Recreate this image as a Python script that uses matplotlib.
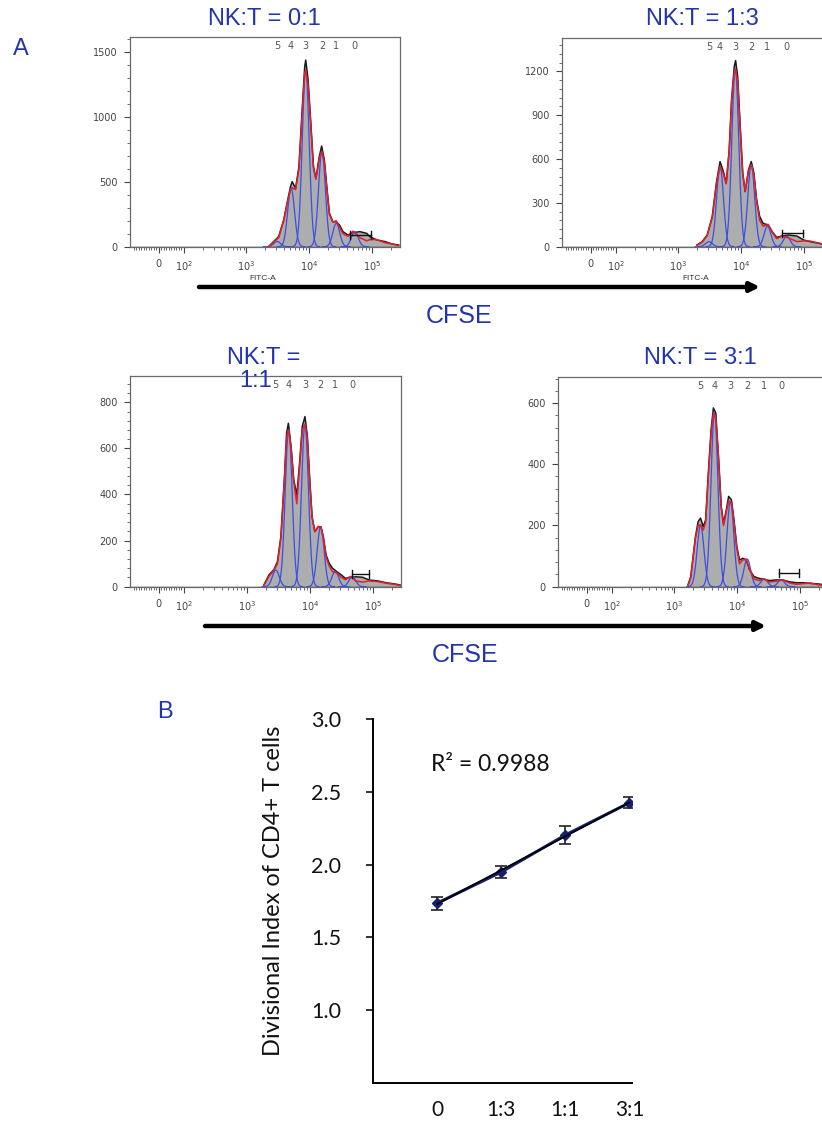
import numpy as np
import matplotlib
matplotlib.use("Agg")
import matplotlib.pyplot as plt
from matplotlib.patches import FancyArrowPatch
from matplotlib.ticker import FixedLocator, MultipleLocator

W, H = 822, 1124
BLUE_TXT = '#2233b0'

# ---- A: CFSE histograms, x as log10(FITC-A), y as cell counts ----
logx_01 = [3.352, 3.433, 3.514, 3.595, 3.648, 3.703, 3.730, 3.784, 3.838, 3.892,
           3.930, 3.946, 3.984, 4.027, 4.070, 4.108, 4.162, 4.200, 4.243, 4.287,
           4.324, 4.378, 4.432, 4.486, 4.540, 4.620, 4.700, 4.810, 4.919, 4.970,
           5.080, 5.215, 5.320, 5.430]
count_01 = [0, 39, 77, 206, 335, 463, 502, 450, 617, 1080,
            1389, 1440, 1286, 952, 617, 528, 694, 777, 669, 437,
            258, 193, 193, 167, 116, 90, 108, 116, 103, 77,
            52, 39, 21, 13]
fit_01 = [0, 35, 70, 200, 330, 440, 455, 440, 600, 1050,
          1340, 1360, 1250, 940, 610, 520, 680, 735, 650, 430,
          250, 190, 200, 150, 100, 80, 120, 70, 45, 55,
          55, 30, 22, 8]

logx_13 = [3.297, 3.378, 3.459, 3.540, 3.605, 3.664, 3.718, 3.762, 3.810, 3.848,
           3.891, 3.912, 3.945, 3.983, 4.026, 4.065, 4.118, 4.162, 4.204, 4.248,
           4.297, 4.350, 4.431, 4.496, 4.567, 4.648, 4.755, 4.891, 4.998, 5.107,
           5.242, 5.350, 5.450]
count_13 = [12, 34, 80, 206, 435, 583, 514, 435, 663, 1006,
            1234, 1275, 1166, 846, 503, 377, 526, 583, 503, 320,
            206, 160, 149, 103, 64, 73, 80, 73, 46, 34,
            23, 12, 6]
fit_13 = [10, 30, 75, 200, 420, 550, 500, 430, 650, 990,
          1200, 1216, 1130, 830, 500, 380, 520, 560, 490, 310,
          180, 140, 153, 100, 55, 72, 60, 35, 40, 38,
          25, 12, 5]

logx_11 = [3.270, 3.352, 3.433, 3.486, 3.541, 3.595, 3.632, 3.660, 3.703, 3.746,
           3.794, 3.838, 3.881, 3.924, 3.962, 4.000, 4.037, 4.081, 4.135, 4.178,
           4.216, 4.259, 4.308, 4.362, 4.432, 4.502, 4.567, 4.648, 4.729, 4.838,
           4.945, 5.081, 5.216, 5.350, 5.459]
count_11 = [7, 51, 75, 109, 217, 463, 666, 709, 608, 463,
            398, 536, 695, 738, 651, 463, 304, 239, 260, 260,
            217, 138, 102, 80, 65, 51, 36, 41, 43, 41,
            29, 25, 17, 12, 6]
fit_11 = [5, 45, 72, 100, 210, 450, 650, 680, 600, 455,
          360, 520, 680, 705, 640, 455, 300, 240, 262, 255,
          210, 130, 90, 65, 60, 40, 30, 45, 25, 20,
          25, 22, 15, 10, 4]

logx_31 = [3.217, 3.261, 3.298, 3.336, 3.379, 3.417, 3.460, 3.498, 3.541, 3.585,
           3.622, 3.660, 3.703, 3.747, 3.784, 3.828, 3.865, 3.909, 3.951, 3.995,
           4.039, 4.092, 4.146, 4.200, 4.270, 4.352, 4.433, 4.514, 4.622, 4.729,
           4.838, 4.946, 5.054, 5.162, 5.297, 5.450]
count_31 = [6, 33, 98, 164, 213, 224, 196, 218, 371, 513,
            584, 567, 425, 262, 207, 251, 295, 284, 218, 131,
            87, 93, 87, 55, 33, 27, 24, 20, 22, 22,
            16, 13, 13, 11, 9, 4]
fit_31 = [4, 30, 95, 160, 200, 202, 185, 210, 360, 500,
          567, 550, 420, 258, 200, 245, 280, 275, 210, 125,
          75, 88, 90, 55, 25, 20, 25, 15, 18, 22,
          12, 8, 10, 12, 6, 3]

# generation peaks 5..0 (log10 centre, height) of the proliferation model
gen_labels = ['5', '4', '3', '2', '1', '0']
gen_c_01 = [3.490, 3.713, 3.946, 4.205, 4.433, 4.729]
gen_h_01 = [40, 450, 1360, 733, 180, 116]
gen_c_13 = [3.486, 3.664, 3.907, 4.162, 4.421, 4.729]
gen_h_13 = [34, 549, 1216, 560, 140, 72]
gen_c_11 = [3.460, 3.665, 3.924, 4.173, 4.405, 4.676]
gen_h_11 = [72, 680, 705, 260, 65, 43]
gen_c_31 = [3.417, 3.639, 3.893, 4.162, 4.433, 4.703]
gen_h_31 = [200, 567, 278, 90, 25, 22]
gen_sigma = 0.055

# gate bar (log10 lo, log10 hi, height)
gate_01 = (4.65, 4.98, 90)
gate_13 = (4.648, 4.982, 92)
gate_11 = (4.676, 4.945, 54)
gate_31 = (4.676, 4.989, 44)

# ---- B: divisional index ----
ratios = ['0', '1:3', '1:1', '3:1']
div_index = [1.735, 1.949, 2.203, 2.425]
div_err = [0.045, 0.040, 0.062, 0.038]


def box(left, top, right, bottom):
    return [left / W, 1 - bottom / H, (right - left) / W, (bottom - top) / H]


def px(x, y):
    return x / W, 1 - y / H


fig = plt.figure(figsize=(W / 100, H / 100), dpi=100)


def hist_panel(rect, logx, counts, fit, gc, gh, gate, ymax, ystep, yminor):
    ax = fig.add_axes(rect)
    ax.set_xscale('symlog', linthresh=100, linscale=0.36)
    ax.set_xlim(-114, 10 ** 5.45)
    ax.set_ylim(0, ymax)
    x = 10 ** np.asarray(logx)
    ax.fill_between(x, counts, color='#adadad', lw=0, zorder=1)
    ax.axhline(0, color='#1a1a1a', lw=1.0, zorder=2)
    ax.plot(x, counts, color='#1a1a1a', lw=1.1, zorder=2)
    for c, h in zip(gc, gh):
        g = np.linspace(c - 4 * gen_sigma, c + 4 * gen_sigma, 80)
        ax.plot(10 ** g, h * np.exp(-0.5 * ((g - c) / gen_sigma) ** 2),
                color='#3b4ee6', lw=0.9, zorder=3)
    ax.plot(x, fit, color='#e3202a', lw=1.1, zorder=4)
    lo, hi, gy = gate
    ax.plot([10 ** lo, 10 ** hi], [gy, gy], color='#111', lw=1.0, zorder=5)
    for e in (lo, hi):
        ax.plot([10 ** e, 10 ** e], [gy - ymax * 0.018, gy + ymax * 0.018],
                color='#111', lw=1.0, zorder=5)
    for lab, c in zip(gen_labels, gc):
        ax.text(10 ** c, 0.955, lab, transform=ax.get_xaxis_transform(),
                ha='center', va='center', fontsize=7, color='#555555')
    ax.xaxis.set_major_locator(FixedLocator([0, 1e2, 1e3, 1e4, 1e5]))
    ax.set_xticklabels(['0', '$10^2$', '$10^3$', '$10^4$', '$10^5$'])
    minors = [v for v in range(-100, 101, 10) if v != 0]
    for k in range(2, 6):
        minors += [m * 10 ** k for m in range(2, 10)]
    ax.xaxis.set_minor_locator(FixedLocator(minors))
    ax.yaxis.set_major_locator(MultipleLocator(ystep))
    ax.yaxis.set_minor_locator(MultipleLocator(yminor))
    ax.tick_params(which='major', length=4, width=0.8, labelsize=7,
                   colors='#444444', pad=5)
    ax.tick_params(which='minor', length=2, width=0.6, colors='#555555')
    for s in ax.spines.values():
        s.set_color('#6a6a6a')
        s.set_linewidth(0.9)
    return ax


hist_panel(box(130, 37, 400, 246.7), logx_01, count_01, fit_01,
           gen_c_01, gen_h_01, gate_01, 1618, 500, 100)
hist_panel(box(562, 38, 832, 246.7), logx_13, count_13, fit_13,
           gen_c_13, gen_h_13, gate_13, 1429, 300, 60)
hist_panel(box(130, 376, 401, 586.7), logx_11, count_11, fit_11,
           gen_c_11, gen_h_11, gate_11, 914, 200, 40)
hist_panel(box(558, 377, 828, 586.7), logx_31, count_31, fit_31,
           gen_c_31, gen_h_31, gate_31, 685, 200, 40)

title_kw = dict(ha='center', va='center', fontsize=17, color=BLUE_TXT,
                family='Liberation Sans', zorder=10)
fig.text(*px(264, 19), 'NK:T = 0:1', **title_kw)
fig.text(*px(702, 19), 'NK:T = 1:3', **title_kw)
fig.text(*px(264, 358), 'NK:T =', **title_kw)
fig.text(*px(256, 381), '1:1', **title_kw)
fig.text(*px(700, 358), 'NK:T = 3:1', **title_kw)

for xx in (263, 696):
    fig.text(*px(xx, 279), 'FITC-A', ha='center', va='center',
             fontsize=6, color='#333333', family='Liberation Sans')

for (x0, x1, y, ycf) in ((199, 760, 287, 316), (205, 766, 626, 655)):
    arr = FancyArrowPatch(px(x0, y), px(x1, y), transform=fig.transFigure,
                          arrowstyle='-|>', mutation_scale=14, lw=3.2,
                          color='black', shrinkA=0, shrinkB=0)
    fig.add_artist(arr)
    fig.text(*px((x0 + x1) / 2 - 20, ycf), 'CFSE', ha='center', va='center',
             fontsize=18, color=BLUE_TXT, family='Liberation Sans')

fig.text(*px(21, 49), 'A', ha='center', va='center', fontsize=17,
         color=BLUE_TXT, family='Liberation Sans')
fig.text(*px(165, 712), 'B', ha='center', va='center', fontsize=17,
         color=BLUE_TXT, family='Liberation Sans')

# ---- panel B ----
axb = fig.add_axes(box(373, 719, 632, 1083))
xpos = np.arange(len(ratios))
axb.errorbar(xpos, div_index, yerr=div_err, fmt='D-', color='#16216e',
             ms=5.5, lw=2.2, capsize=4, ecolor='#222222', elinewidth=1.2,
             capthick=1.2, zorder=3)
slope, icpt = np.polyfit(xpos, div_index, 1)
axb.plot(xpos, slope * xpos + icpt, color='black', lw=1.3, zorder=4)
axb.set_xlim(-1, 3.04)
axb.set_ylim(0.5, 3.0)
axb.set_yticks([1.0, 1.5, 2.0, 2.5, 3.0])
axb.set_yticklabels(['1.0', '1.5', '2.0', '2.5', '3.0'], family='Lato')
axb.set_xticks(xpos)
axb.set_xticklabels(ratios, family='Lato')
axb.tick_params(axis='x', length=0, pad=12, labelsize=15, colors='#111111')
axb.tick_params(axis='y', direction='out', length=5, width=1.2, pad=18,
                labelsize=15.5, colors='#111111')
axb.spines['top'].set_visible(False)
axb.spines['right'].set_visible(False)
axb.spines['left'].set_linewidth(1.4)
axb.spines['bottom'].set_linewidth(1.4)
axb.text(-0.09, 2.687, 'R² = 0.9988', fontsize=16.5, va='center',
         family='Lato', color='#111111')
fig.text(*px(274, 891), 'Divisional Index of CD4+ T cells', rotation=90,
         ha='center', va='center', fontsize=17, family='Lato', color='#111111')

fig.savefig('out.png', dpi=100)
